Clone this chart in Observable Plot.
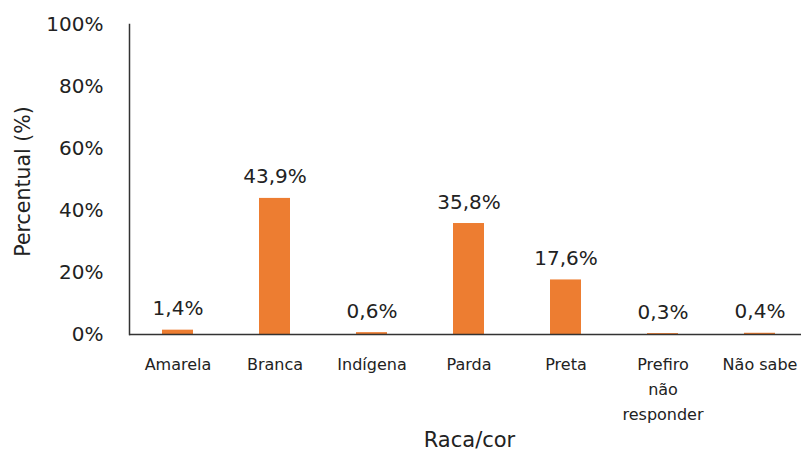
<!DOCTYPE html>
<html><head><meta charset="utf-8">
<script src="https://cdn.jsdelivr.net/npm/d3@7"></script>
<script src="https://cdn.jsdelivr.net/npm/@observablehq/plot@0.6"></script>
<style>
body{margin:0;background:#fff;}
svg{font-family:"DejaVu Sans",Verdana,sans-serif;}
</style></head><body>
<div id="chart"></div>
<script>
const categories = ["Amarela","Branca","Indígena","Parda","Preta","Prefiro\nnão\nresponder","Não sabe"];
const values = [1.4, 43.9, 0.6, 35.8, 17.6, 0.3, 0.4];
const valueLabels = ["1,4%","43,9%","0,6%","35,8%","17,6%","0,3%","0,4%"];
const yTicks = [0,20,40,60,80,100];

const data = categories.map((c,i)=>({cat:c, v:values[i], label:valueLabels[i]}));

const plot = Plot.plot({
  width: 801, height: 452,
  marginTop: 24, marginBottom: 118, marginLeft: 129, marginRight: 0,
  x: {domain: categories, range: [129.5, 808.5], paddingInner: 0.68, paddingOuter: 0.34, axis: null},
  y: {domain: [0,100], ticks: yTicks, tickFormat: d => d + "%", label: null},
  marks: [
    Plot.axisY({ticks: yTicks, tickFormat: d => d + "%", tickSize: 0, tickPadding: 26, fontSize: 20, fill:"#222", label: null}),
    Plot.barY(data, {x:"cat", y:"v", fill:"#ED7D31"}),
    Plot.text(data, {x:"cat", y:"v", text:"label", lineAnchor:"bottom", dy:-15, fontSize:20, fill:"#222"}),
    Plot.text(data, {x:"cat", y:0, text:"cat", lineAnchor:"top", dy:18, fontSize:16, lineHeight:1.55, fill:"#222", style:{letterSpacing:"1.1px"}}),
    Plot.ruleY([0], {stroke:"#333", strokeWidth:1.5}),
    Plot.frame({anchor:"left", stroke:"#333", strokeWidth:1.5}),
    Plot.text(["Percentual (%)"], {frameAnchor:"left", textAnchor:"middle", dx:-106, dy:2, rotate:-90, fontSize:20.5, fill:"#222"}),
    Plot.text(["Raca/cor"], {frameAnchor:"bottom", dx:4, dy:112, fontSize:21, fill:"#222"})
  ]
});
document.getElementById("chart").appendChild(plot);
</script>
</body></html>
